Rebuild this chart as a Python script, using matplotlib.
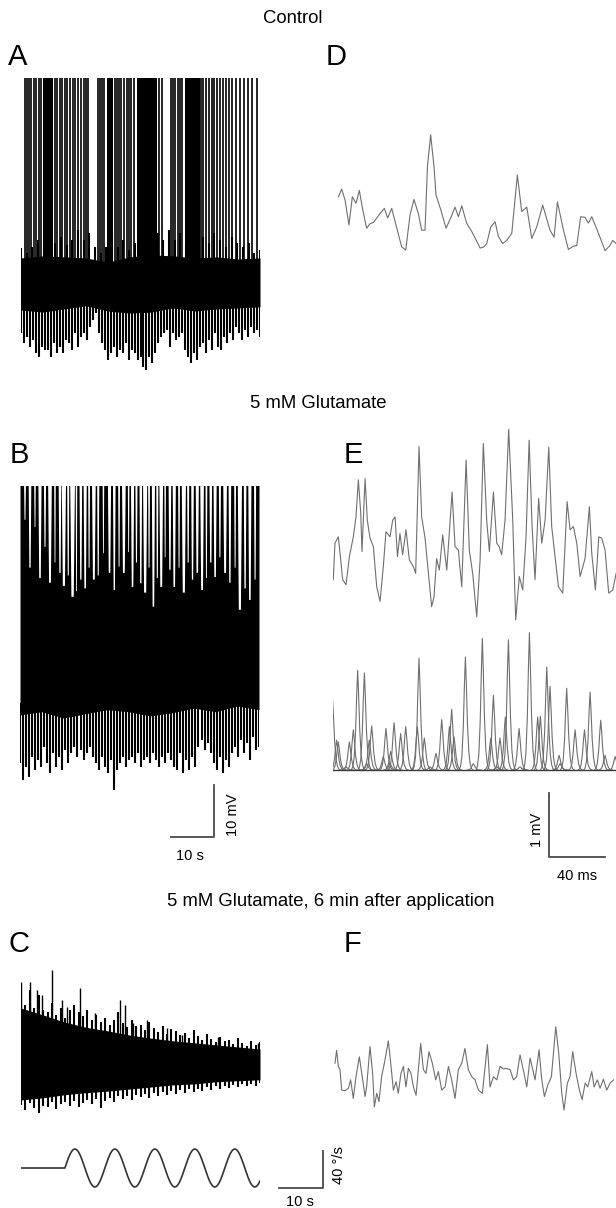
import numpy as np
import matplotlib.pyplot as plt

plt.rcParams['font.family'] = ['Liberation Sans', 'DejaVu Sans']

# ---- A: control, extracellular trace (s, mV) ----
a_spikes = [0.9, 1.4, 1.8, 2.3, 3.0, 3.5, 4.1, 4.6, 7.8, 8.3, 9.0, 9.4, 10.1, 10.6,
            11.3, 12.0, 12.4, 13.1, 13.8, 14.5, 15.0, 15.4, 17.7, 18.2, 18.6, 19.1,
            21.6, 22.1, 22.6, 23.0, 23.7, 24.4, 24.9, 25.3, 26.0, 31.8, 32.4, 34.5,
            35.0, 35.4, 36.1, 36.6, 37.1, 41.4, 41.9, 42.6, 43.3, 44.0, 44.4, 45.1,
            45.8, 46.5, 47.2, 47.9, 48.6, 49.5, 50.4, 51.3, 52.2, 53.2, 54.3]
a_bursts = [(5.1, 7.4), (19.8, 21.2), (26.7, 31.3), (37.7, 41.2)]
a_core_hi = [4.6, 5.0, 4.8, 4.6, 3.8, 4.8, 5.2, 5.0, 4.6, 4.8, 4.4, 4.6]
a_core_lo = [-5.4, -5.8, -5.2, -4.6, -5.6, -6.0, -5.8, -5.0, -5.6, -5.2, -5.0, -4.8]
a_hair_hi = [6.5, 5.5, 6.8, 8.1, 6.8, 9.4, 7.4, 8.7, 7.1, 8.1, 10.0, 8.1, 9.4, 6.8,
             5.5, 6.8, 9.4, 6.8, 8.1, 6.2, 7.4, 5.5, 6.8, 8.1, 9.4, 8.1, 10.0, 8.1,
             9.4, 6.8, 5.5, 7.4, 8.7, 7.4, 9.4, 8.1, 6.8, 8.7, 7.4, 6.8, 7.4, 5.5, 6.2]
a_hair_lo = [-9.8, -11.7, -10.6, -12.5, -11.2, -13.7, -14.4, -12.5, -13.1, -13.1,
             -14.4, -11.7, -13.7, -12.5, -13.7, -11.2, -11.7, -13.1, -9.8, -12.5,
             -10.6, -9.8, -11.2, -8.7, -7.3, -6.0, -9.8, -11.7, -13.1, -15.0,
             -13.7, -12.5, -14.4, -13.1, -13.7, -11.7, -15.0, -13.1, -13.7, -15.0,
             -14.4, -16.3, -16.9, -14.4, -15.6, -13.7, -11.7, -10.6, -9.8, -9.2,
             -12.5, -9.8, -11.2, -10.6, -9.8, -13.1, -14.4, -15.6, -13.7, -15.0,
             -12.5, -11.7, -13.7, -11.2, -13.1, -9.8, -12.5, -13.1, -10.6, -11.7,
             -9.8, -11.2, -8.7, -9.8, -11.2, -9.2, -10.6, -8.7, -9.8, -9.2, -10.6]

# ---- B: 5 mM glutamate ----
b_core_lo = [-12.3, -11.7, -12.9, -12.1, -11.3, -11.7, -12.5, -11.9, -11.0, -11.7, -10.6, -11.3]
# quiet intervals between spikes: centre (s), width (s), highest excursion in them (mV)
b_quiet_t = [1.15, 2.3, 3.45, 4.6, 5.75, 6.9, 8.05, 9.2, 10.1, 11.1, 12.1, 13.0, 14.0,
             15.0, 15.9, 17.0, 18.0, 19.2, 20.6, 21.7, 22.8, 23.9, 25.0, 25.9, 26.8,
             27.8, 28.8, 29.7, 30.7, 31.6, 32.5, 33.4, 34.5, 35.5, 36.6, 37.7, 38.7,
             39.7, 40.8, 41.9, 42.9, 43.9, 44.9, 46.0, 47.2, 48.3, 49.5, 50.6, 51.8,
             52.9, 54.1]
b_quiet_w = [0.35, 0.5, 0.3, 0.6, 0.4, 0.7, 0.3, 0.5, 0.8, 0.4, 0.9, 0.3, 0.5, 0.6,
             0.35, 0.7, 0.4, 0.3, 0.6, 0.5, 0.35, 0.7, 0.3, 0.6, 0.4, 0.5, 0.8, 0.35,
             0.6, 0.4, 0.7, 0.3, 0.5, 0.6, 0.35, 0.8, 0.4, 0.5, 0.6, 0.7, 0.35, 0.5,
             0.6, 0.4, 0.7, 0.5, 0.35, 0.8, 0.5, 0.6, 0.4]
b_quiet_max = [25.2, 16.0, 23.8, 14.0, 20.0, 13.1, 17.0, 15.0, 12.5, 14.5, 10.4, 11.5,
               13.7, 12.0, 16.0, 13.7, 14.5, 18.8, 15.0, 11.7, 16.2, 15.0, 19.0, 12.3,
               17.0, 13.0, 11.2, 16.0, 8.5, 14.0, 12.3, 18.0, 15.6, 12.3, 16.0, 11.2,
               17.0, 13.7, 15.0, 11.7, 14.0, 17.0, 14.2, 18.0, 15.0, 13.1, 16.0, 7.9,
               12.0, 9.8, 13.7]
b_hair_lo = [-21.5, -24.8, -22.3, -24.2, -20.4, -22.9, -21.0, -22.3, -18.5, -21.5,
             -23.5, -19.6, -22.3, -20.4, -22.9, -19.0, -21.5, -19.6, -18.5, -20.4,
             -19.0, -21.0, -19.6, -18.5, -20.4, -21.5, -22.9, -20.4, -22.3, -23.5,
             -21.0, -26.7, -22.9, -21.5, -20.4, -22.3, -21.0, -20.4, -21.5, -19.6,
             -22.3, -21.0, -20.4, -21.5, -19.6, -21.0, -22.3, -20.4, -21.5, -19.6,
             -21.0, -22.3, -22.9, -19.6, -23.5, -21.0, -22.9, -20.4, -22.3, -18.5,
             -17.1, -19.0, -17.7, -19.6, -21.5, -22.9, -20.4, -23.5, -21.0, -22.3,
             -19.6, -18.5, -20.4, -17.1, -19.6, -17.7, -21.0, -16.5, -19.0, -18.5]

# ---- C: 6 min after application ----
c_core_hi = [10.0, 8.7, 7.3, 6.3, 5.6, 4.8, 4.2, 3.7, 3.3, 2.9, 2.5, 2.1]
c_core_lo = [-7.7, -7.3, -6.7, -6.3, -6.0, -5.6, -5.2, -4.8, -4.6, -4.2, -4.0, -3.8]
c_hair_hi = [11.5, 10.6, 13.5, 10.0, 12.5, 9.6, 9.2, 10.9, 8.7, 10.0, 8.1, 9.6, 10.6, 9.2,
             8.5, 9.6, 7.7, 8.7, 7.3, 8.1, 6.7, 7.7, 9.2, 7.1, 6.3, 7.7, 6.5, 6.7, 5.8,
             7.3, 6.2, 5.4, 6.5, 5.0, 6.0, 5.6, 4.8, 5.2, 4.2, 5.8, 4.6, 3.8, 5.0, 4.0,
             3.5, 4.4, 3.7, 3.8, 3.1, 4.2, 3.3, 2.7, 3.7, 2.9, 3.5]
c_hair_lo = [-8.7, -9.6, -8.3, -9.2, -10.2, -8.8, -9.0, -8.1, -9.4, -8.5, -8.0, -8.8, -7.9,
             -9.0, -8.2, -7.7, -8.5, -7.5, -9.2, -7.9, -7.3, -8.1, -7.0, -7.6, -6.9, -7.8,
             -6.7, -7.2, -6.5, -7.4, -6.4, -6.9, -6.2, -6.8, -6.0, -6.6, -5.8, -6.3, -5.6,
             -6.1, -5.5, -6.0, -5.3, -5.8, -5.1, -5.6, -5.0, -5.4, -4.8, -5.3, -4.7, -5.1,
             -4.6, -5.0, -4.5]
c_spike_t = [0.0, 2.1, 3.7, 4.8, 7.1, 9.4, 10.6, 13.6, 17.0, 22.8, 23.9, 25.8, 29.0, 33.6, 37.0, 45.3, 54.5]
c_spike_v = [15.0, 15.0, 13.5, 12.5, 17.3, 11.5, 10.2, 13.8, 9.0, 11.5, 10.6, 7.1, 7.7, 6.2, 4.8, 4.4, 3.3]

# stimulus (turntable velocity, deg/s)
stim_onset = 10.1
stim_period = 9.2
stim_amp = 20.5
trace_len = 55.0

# ---- D: control, averaged field potential (ms, mV) ----
d_t = [3.8, 6.2, 8.6, 11.4, 13.8, 16.4, 18.8, 21.2, 24.0, 26.4, 28.8, 31.2, 33.6, 36.7, 39.0,
       41.9, 45.9, 49.0, 51.9, 55.0, 57.8, 60.9, 63.3, 65.7, 67.4, 69.7, 72.1, 73.5, 76.9,
       80.7, 84.0, 87.1, 89.5, 91.9, 95.4, 99.0, 102.1, 105.0, 107.8, 109.7, 112.6, 115.7,
       118.1, 121.1, 124.0, 127.6, 131.6, 134.7, 138.3, 141.9, 145.4, 149.7, 154.9, 157.8,
       160.2, 164.5, 168.0, 171.6, 174.0, 176.8, 179.9, 182.3, 184.7, 189.5, 194.2, 197.3,
       199.7, 202.1]
d_v = [0.83, 0.95, 0.78, 0.39, 0.83, 0.73, 0.93, 0.63, 0.34, 0.41, 0.43, 0.50, 0.57, 0.65,
       0.50, 0.65, 0.31, 0.05, 0.0, 0.55, 0.79, 0.57, 0.31, 0.31, 1.30, 1.80, 1.30, 0.86,
       0.63, 0.34, 0.50, 0.67, 0.52, 0.69, 0.42, 0.29, 0.16, 0.03, 0.05, 0.10, 0.36, 0.44,
       0.21, 0.10, 0.15, 0.26, 1.17, 0.60, 0.67, 0.18, 0.36, 0.70, 0.31, 0.20, 0.75, 0.31,
       0.01, 0.06, 0.07, 0.52, 0.51, 0.42, 0.52, 0.26, -0.01, 0.06, 0.15, 0.10]

# ---- E: glutamate, field potential and its components ----
e_t = [0.2, 1.4, 3.8, 5.5, 6.9, 9.3, 11.7, 14.5, 16.4, 18.1, 19.8, 20.7, 22.9, 24.5, 26.4,
       28.8, 31.2, 33.6, 35.9, 37.8, 40.7, 42.6, 44.3, 46.0, 47.8, 49.7, 52.1, 54.5, 57.4,
       59.0, 61.4, 63.3, 65.7, 68.1, 70.4, 72.1, 74.0, 75.9, 78.3, 81.2, 85.0, 87.1, 89.5,
       91.9, 95.0, 97.3, 99.7, 102.6, 105.0, 107.3, 109.7, 111.6, 114.5, 116.9, 118.5,
       120.4, 122.8, 125.4, 128.3, 130.4, 133.0, 135.4, 137.8, 140.0, 142.1, 144.2, 146.8,
       149.0, 151.4, 154.0, 156.1, 158.5, 160.9, 164.0, 167.1, 169.2, 171.6, 174.0, 176.4,
       179.9, 183.0, 184.7, 187.3, 189.7, 191.8, 194.2, 196.8, 199.7, 202.1]
e_v = [0.63, 1.20, 1.30, 0.94, 0.63, 0.55, 0.99, 1.30, 1.61, 2.19, 1.67, 1.07, 2.21, 1.56,
       1.28, 1.15, 0.52, 0.29, 0.83, 1.38, 1.30, 1.56, 1.61, 0.99, 1.35, 1.02, 1.41, 0.94,
       0.83, 0.73, 2.71, 1.61, 1.28, 0.73, 0.21, 0.36, 0.96, 0.78, 1.33, 0.78, 2.00, 1.15,
       1.09, 0.52, 2.50, 1.09, 0.73, 0.05, 0.94, 2.76, 1.56, 1.07, 2.00, 1.20, 1.15, 1.02,
       1.56, 2.98, 1.56, 0.0, 0.68, 0.47, 1.30, 2.81, 1.46, 0.63, 1.90, 1.20, 1.56, 2.70,
       1.46, 0.99, 0.52, 0.42, 1.85, 1.41, 1.46, 1.20, 0.68, 0.96, 1.77, 1.04, 0.47, 1.30,
       1.28, 1.09, 0.42, 0.47, 0.73]
e_comp_t = [-0.3, 2.6, 3.8, 9.3, 11.7, 14.5, 17.6, 22.4, 24.0, 25.9, 27.6, 35.9, 37.8, 40.7,
            41.2, 43.6, 48.3, 51.9, 60.2, 61.4, 65.2, 69.3, 73.5, 77.6, 83.1, 84.7, 86.4,
            94.5, 100.2, 106.6, 112.6, 114.5, 116.9, 119.2, 123.0, 125.2, 132.8, 133.5,
            140.2, 146.1, 148.0, 152.6, 154.9, 161.4, 162.1, 166.8, 172.8, 179.5, 183.5,
            191.1, 194.2, 201.4]
e_comp_h = [1.10, 0.47, 0.44, 0.05, 0.44, 0.63, 1.56, 1.52, 0.10, 0.47, 0.69, 0.21, 0.65,
            0.10, 0.29, 0.74, 0.57, 0.68, 0.68, 1.75, 0.50, 0.05, 0.26, 0.79, 0.68, 0.95,
            0.52, 1.77, 0.10, 2.06, 0.50, 1.17, 0.05, 0.50, 0.83, 2.04, 0.65, 0.05, 2.15,
            0.83, 0.84, 1.61, 1.31, 0.23, 0.10, 1.28, 0.63, 0.63, 1.22, 0.78, 0.23, 0.21]
# normalised shape of one component
pulse_dt = [-4.5, -3.5, -2.5, -1.5, -0.7, 0.0, 0.7, 1.5, 2.5, 3.5, 4.5, 5.5]
pulse_v = [0.0, 0.03, 0.12, 0.38, 0.75, 1.0, 0.75, 0.40, 0.15, 0.05, 0.01, 0.0]

# ---- F: 6 min after application ----
f_t = [1.4, 2.6, 3.8, 5.0, 6.2, 8.6, 11.0, 12.6, 14.5, 16.4, 18.8, 21.2, 22.9, 24.0, 26.4,
       28.3, 29.5, 31.2, 32.8, 34.7, 37.1, 39.5, 41.2, 43.1, 45.0, 46.6, 48.5, 50.2, 52.1,
       53.8, 55.7, 57.4, 59.3, 62.6, 64.5, 66.4, 68.5, 70.9, 73.3, 75.2, 77.6, 80.0, 82.4,
       84.7, 87.1, 89.5, 91.9, 94.2, 96.6, 99.0, 101.4, 103.8, 106.6, 110.2, 112.1, 114.5,
       116.9, 119.2, 121.6, 123.5, 126.4, 128.8, 131.1, 133.5, 136.4, 138.3, 140.7, 142.6,
       144.2, 147.1, 149.0, 150.9, 153.3, 155.9, 159.0, 161.1, 163.3, 164.9, 167.3, 169.2,
       171.1, 173.5, 175.9, 177.8, 180.0, 181.8, 184.7, 186.4, 188.7, 190.6, 193.0, 195.4,
       197.8, 200.2]
f_v = [0.73, 0.93, 0.68, 0.63, 0.31, 0.30, 0.34, 0.47, 0.18, 0.52, 0.83, 0.47, 0.21, 0.36,
       0.99, 0.57, 0.05, 0.26, 0.13, 0.52, 0.78, 1.08, 0.73, 0.31, 0.44, 0.26, 0.57, 0.68,
       0.36, 0.65, 0.57, 0.36, 0.23, 1.04, 0.63, 0.57, 0.91, 0.73, 0.47, 0.60, 0.31, 0.36,
       0.68, 0.47, 0.18, 0.63, 0.73, 0.96, 0.63, 0.52, 0.47, 0.31, 0.26, 1.02, 0.36, 0.52,
       0.47, 0.68, 0.64, 0.65, 0.63, 0.47, 0.52, 0.86, 0.57, 0.36, 0.81, 0.63, 0.47, 0.94,
       0.47, 0.21, 0.39, 0.52, 1.30, 0.89, 0.26, 0.0, 0.42, 0.52, 0.91, 0.57, 0.31, 0.16,
       0.42, 0.36, 0.60, 0.36, 0.47, 0.34, 0.48, 0.31, 0.42, 0.47]

W, H = 616, 1208
fig = plt.figure(figsize=(W / 100, H / 100), dpi=100)

SPIKE_TOP = 45.0
BAR = '#4a4a4a'
GREY = '#6f6f6f'
HAIR_LW = 1.5


def px_axes(left, top, right, bottom, xlim, ylim):
    ax = fig.add_axes([left / W, 1 - bottom / H, (right - left) / W, (bottom - top) / H])
    ax.set_xlim(*xlim)
    ax.set_ylim(*ylim)
    ax.axis('off')
    return ax


def px_text(x, y, s, **kw):
    fig.text(x / W, 1 - y / H, s, **kw)


def spread(values, t0=0.0, t1=trace_len):
    return np.linspace(t0, t1, len(values))


# titles and panel letters
title_kw = dict(fontsize=13.3, va='baseline', ha='left')
px_text(263, 23, 'Control', **title_kw)
px_text(250, 408, '5 mM Glutamate', **title_kw)
px_text(167, 906, '5 mM Glutamate, 6 min after application', **title_kw)
for letter, x, y in [('A', 8, 65), ('D', 326, 65), ('B', 10, 463),
                     ('E', 344, 463), ('C', 8, 952), ('F', 344, 952)]:
    px_text(x, y, letter, fontsize=21, va='baseline', ha='left')

# A
ax = px_axes(21, 78, 260, 375, (0, trace_len), (-17.9, 39.2))
ax.fill_between(spread(a_core_hi), a_core_lo, a_core_hi, color='black', lw=0)
ax.vlines(spread(a_hair_hi), 0, a_hair_hi, color='black', lw=HAIR_LW)
ax.vlines(spread(a_hair_lo), 0, a_hair_lo, color='black', lw=HAIR_LW)
ax.vlines(a_spikes, 0, SPIKE_TOP, color='black', lw=1.2)
for s, e in a_bursts:
    ax.fill_between([s, e], 0, SPIKE_TOP, color='black', lw=0)

# B
b_top = 31.7
ax = px_axes(20, 486, 259, 795, (0, trace_len), (-27.7, b_top))
ax.fill_between(spread(b_core_lo), b_core_lo, SPIKE_TOP, color='black', lw=0)
for t, w, v in zip(b_quiet_t, b_quiet_w, b_quiet_max):
    ax.fill([t - 0.6 * w, t + 0.6 * w, t + 0.3 * w, t - 0.3 * w], [b_top, b_top, v, v],
            color='white', lw=0)
ax.vlines(spread(b_hair_lo), -10, b_hair_lo, color='black', lw=HAIR_LW)
# scale bar 10 s / 10 mV
ax.plot([34.7, 44.7, 44.7], [-35.8, -35.8, -25.8], color=BAR, lw=1.3, clip_on=False)
px_text(233, 815, '10 mV', fontsize=10.5, rotation=90, ha='center', va='center')
px_text(190, 856, '10 s', fontsize=10.5, ha='center', va='center')

# C
ax = px_axes(21, 965, 260, 1115, (0, trace_len), (-10.6, 18.3))
ax.fill_between(spread(c_core_hi), c_core_lo, c_core_hi, color='black', lw=0)
ax.vlines(spread(c_hair_hi), 0, c_hair_hi, color='black', lw=HAIR_LW)
ax.vlines(spread(c_hair_lo), 0, c_hair_lo, color='black', lw=HAIR_LW)
ax.vlines(c_spike_t, 0, c_spike_v, color='black', lw=1.0)

# stimulus
ax = px_axes(21, 1140, 260, 1200, (0, trace_len), (-34.6, 30.3))
ts = np.linspace(0, trace_len, 1200)
vel = np.where(ts < stim_onset, 0.0, stim_amp * np.sin(2 * np.pi * (ts - stim_onset) / stim_period))
ax.plot(ts, vel, color='#333333', lw=1.2)
ax.plot([59.4, 69.4, 69.4], [-21.6, -21.6, 18.4], color=BAR, lw=1.3, clip_on=False)
px_text(339, 1165, '40 °/s', fontsize=10.5, rotation=90, ha='center', va='center')
px_text(300, 1202, '10 s', fontsize=10.5, ha='center', va='center')

# D
ax = px_axes(333, 120, 616, 265, (0, 202), (-0.234, 2.03))
ax.plot(d_t, d_v, color=GREY, lw=0.8)

# E top
ax = px_axes(333, 420, 616, 630, (0, 202), (-0.156, 3.125))
ax.plot(e_t, e_v, color=GREY, lw=0.8)

# E bottom
ax = px_axes(333, 625, 616, 775, (0, 202), (-0.078, 2.27))
for t, h in zip(e_comp_t, e_comp_h):
    ax.plot(t + np.array(pulse_dt), h * np.array(pulse_v), color=GREY, lw=0.8)
ax.plot([0, 202], [0, 0], color='#3c3c3c', lw=1.0)
ax.plot([154.2, 154.2, 194.2], [-0.36, -1.36, -1.36], color=BAR, lw=1.3, clip_on=False)
px_text(537, 830, '1 mV', fontsize=10.5, rotation=90, ha='center', va='center')
px_text(577, 876, '40 ms', fontsize=10.5, ha='center', va='center')

# F
ax = px_axes(333, 1010, 616, 1120, (0, 202), (-0.156, 1.56))
ax.plot(f_t, f_v, color=GREY, lw=0.8)

fig.savefig('out.png', dpi=100, facecolor='white')
